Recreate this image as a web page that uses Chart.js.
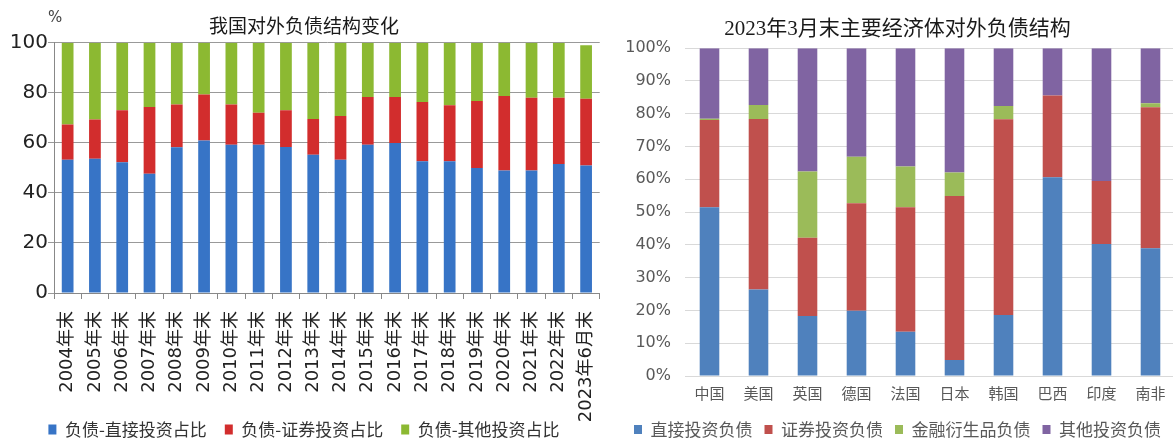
<!DOCTYPE html>
<html>
<head>
<meta charset="utf-8">
<script src="https://cdn.jsdelivr.net/npm/chart.js@4.4.1/dist/chart.umd.min.js"></script>
<style>
  html, body { margin: 0; padding: 0; background: #fff; overflow: hidden; }
  #left { position: absolute; left: 0; top: 0; width: 620px; height: 448px; }
  #right { position: absolute; left: 620px; top: 0; width: 560px; height: 448px; }
</style>
</head>
<body>
<div id="left"><canvas id="debtChina"></canvas></div>
<div id="right"><canvas id="debtWorld"></canvas></div>
<script>
// left chart: share of China's external liabilities (%)
const years = ["2004年末", "2005年末", "2006年末", "2007年末", "2008年末", "2009年末", "2010年末",
  "2011年末", "2012年末", "2013年末", "2014年末", "2015年末", "2016年末", "2017年末", "2018年末",
  "2019年末", "2020年末", "2021年末", "2022年末", "2023年6月末"];
const directShare = [53.3, 53.7, 52.3, 47.7, 58.3, 61.0, 59.3, 59.3, 58.4, 55.3, 53.3, 59.3, 60.0, 52.7, 52.7, 50.0, 49.0, 49.0, 51.6, 51.0];
const portfolioShare = [14.0, 15.6, 20.7, 26.6, 17.0, 18.3, 16.0, 12.7, 14.6, 14.2, 17.4, 19.0, 18.3, 23.6, 22.3, 26.7, 29.7, 29.0, 26.4, 26.6];
const otherShare = [32.7, 30.7, 27.0, 25.7, 24.7, 20.7, 24.7, 28.0, 27.0, 30.5, 29.3, 21.7, 21.7, 23.7, 25.0, 23.3, 21.3, 22.0, 22.0, 21.4];
const leftTicks = [0, 20, 40, 60, 80, 100];

// right chart: structure of external liabilities, end of March 2023 (%)
const countries = ["中国", "美国", "英国", "德国", "法国", "日本", "韩国", "巴西", "印度", "南非"];
const directDebt = [51.5, 26.4, 18.3, 19.9, 13.5, 4.9, 18.6, 60.6, 40.3, 39.0];
const portfolioDebt = [26.6, 52.0, 23.9, 32.8, 38.0, 50.0, 59.7, 25.0, 19.2, 43.0];
const derivativeDebt = [0.4, 4.3, 20.2, 14.2, 12.4, 7.2, 4.1, 0, 0, 1.2];
const otherDebt = [21.5, 17.3, 37.6, 33.1, 36.1, 37.9, 17.6, 14.4, 40.5, 16.8];

const cjk = "'Noto Sans CJK SC'";
const sansCjk = "'DejaVu Sans', 'Noto Sans CJK SC'";
const titleFont = "'Liberation Serif', 'Noto Sans CJK SC'";

// little "%" unit mark above the left axis
const percentMark = {
  id: "percentMark",
  afterDraw(chart) {
    const ctx = chart.ctx;
    ctx.save();
    ctx.font = "15px 'DejaVu Sans'";
    ctx.fillStyle = "#444";
    ctx.textBaseline = "middle";
    ctx.fillText("%", chart.chartArea.left - 6, chart.chartArea.top - 25);
    ctx.restore();
  }
};

// the long rotated labels run into the legend area, so don't let the axis box clip them
const longLabels = {
  id: "longLabels",
  afterLayout(chart) {
    chart.scales.x.bottom = chart.height;
  }
};

new Chart("debtChina", {
  type: "bar",
  data: {
    labels: years,
    datasets: [
      { label: "负债-直接投资占比", data: directShare, backgroundColor: "#3774c6" },
      { label: "负债-证券投资占比", data: portfolioShare, backgroundColor: "#d22d2d" },
      { label: "负债-其他投资占比", data: otherShare, backgroundColor: "#8cb932" }
    ]
  },
  options: {
    responsive: true,
    maintainAspectRatio: false,
    animation: false,
    devicePixelRatio: 1,
    layout: { padding: { left: 0, right: 12, top: 0, bottom: 0 } },
    datasets: { bar: { barPercentage: 0.43, categoryPercentage: 1 } },
    plugins: {
      title: {
        display: true,
        text: "我国对外负债结构变化",
        color: "#1a1a1a",
        font: { family: cjk, size: 19, weight: "normal" },
        padding: { top: 14, bottom: 6 }
      },
      legend: {
        position: "bottom",
        labels: {
          boxWidth: 8,
          boxHeight: 10,
          padding: 18,
          color: "#333",
          font: { family: cjk, size: 17 }
        }
      },
      tooltip: { enabled: false }
    },
    scales: {
      x: {
        stacked: true,
        grid: { drawOnChartArea: false, drawTicks: true, tickLength: 6, color: "#888" },
        border: { color: "#888" },
        ticks: {
          minRotation: 90, maxRotation: 90, autoSkip: false, padding: 12,
          color: "#222", font: { family: sansCjk, size: 18 }
        },
        afterFit: (s) => { s.height = 110; }
      },
      y: {
        stacked: true,
        min: 0,
        max: 100,
        afterBuildTicks: (s) => { s.ticks = leftTicks.map(v => ({ value: v })); },
        grid: { color: "#999", tickLength: 6 },
        border: { color: "#888" },
        ticks: { padding: 0, color: "#222", font: { family: "'DejaVu Sans'", size: 20 } },
        afterFit: (s) => { s.width = 54; }
      }
    }
  },
  plugins: [percentMark, longLabels]
});

new Chart("debtWorld", {
  type: "bar",
  data: {
    labels: countries,
    datasets: [
      { label: "直接投资负债", data: directDebt, backgroundColor: "#4f81bd" },
      { label: "证券投资负债", data: portfolioDebt, backgroundColor: "#c0504d" },
      { label: "金融衍生品负债", data: derivativeDebt, backgroundColor: "#9bbb59" },
      { label: "其他投资负债", data: otherDebt, backgroundColor: "#8064a2" }
    ]
  },
  options: {
    responsive: true,
    maintainAspectRatio: false,
    animation: false,
    devicePixelRatio: 1,
    layout: { padding: { left: 0, right: 5, top: 0, bottom: 0 } },
    datasets: { bar: { barPercentage: 0.4, categoryPercentage: 1 } },
    plugins: {
      title: {
        display: true,
        text: "2023年3月末主要经济体对外负债结构",
        color: "#1a1a1a",
        font: { family: titleFont, size: 21, weight: "normal" },
        padding: { top: 17, bottom: 6 }
      },
      legend: {
        position: "bottom",
        labels: {
          boxWidth: 8,
          boxHeight: 9,
          padding: 12,
          color: "#595959",
          font: { family: cjk, size: 17 }
        }
      },
      tooltip: { enabled: false }
    },
    scales: {
      x: {
        stacked: true,
        grid: { display: false },
        border: { display: false },
        ticks: { maxRotation: 0, padding: 0, color: "#595959", font: { family: cjk, size: 15 } },
        afterFit: (s) => { s.height = 33; }
      },
      y: {
        stacked: true,
        min: 0,
        max: 100,
        grid: { color: "#d9d9d9", drawTicks: false },
        border: { display: false },
        ticks: {
          stepSize: 10, padding: 14, color: "#595959",
          font: { family: "'DejaVu Sans'", size: 16 },
          callback: (v) => v + "%"
        },
        afterFit: (s) => { s.width = 65; }
      }
    }
  }
});
</script>
</body>
</html>
